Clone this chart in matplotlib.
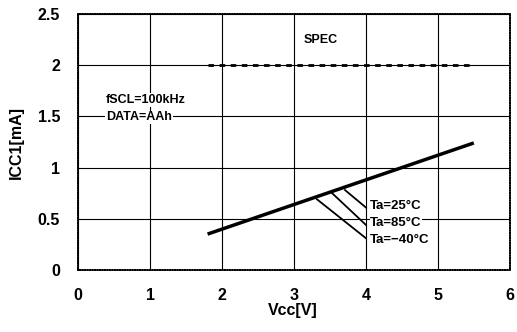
import matplotlib
matplotlib.use('Agg')
import matplotlib.pyplot as plt

plt.rcParams['font.family'] = ['Liberation Sans', 'DejaVu Sans']

# measured curve (Ta=25/85/-40 overlap)
vcc = [1.8, 5.5]
icc = [0.35, 1.24]

# spec line
spec_x = [1.8, 5.5]
spec_y = [2.0, 2.0]

# leader lines: (curve point) -> (label point)
labels = ['Ta=25°C', 'Ta=85°C', 'Ta=\u221240°C']
lead_x0 = [3.71, 3.53, 3.32]
lead_y0 = [0.78, 0.75, 0.69]
lead_x1 = [4.0, 4.0, 4.0]
lead_y1 = [0.61, 0.44, 0.31]
label_y = [0.62, 0.46, 0.29]

xticks = [0, 1, 2, 3, 4, 5, 6]
yticks = [0, 0.5, 1, 1.5, 2, 2.5]

fig = plt.figure(figsize=(5.17, 3.32), dpi=100)
ax = fig.add_axes([0.151, 0.187, 0.835, 0.771])

ax.set_xlim(0, 6)
ax.set_ylim(0, 2.5)
ax.set_xticks(xticks)
ax.set_yticks(yticks)
ax.set_xticklabels([str(t) for t in xticks], fontsize=11.5, fontweight='bold')
ax.set_yticklabels(['0', '0.5', '1', '1.5', '2', '2.5'], fontsize=11.5, fontweight='bold')
ax.tick_params(axis='x', length=0, pad=13)
ax.tick_params(axis='y', length=0, pad=13)
ax.grid(True, color='black', linewidth=0.8)
for s in ax.spines.values():
    s.set_linewidth(1.2)
    s.set_linestyle((0, (1, 0.5)))

ax.plot(spec_x, spec_y, color='black', linewidth=2, linestyle=(0, (2, 2)))
ax.plot(vcc, icc, color='black', linewidth=2.5, solid_capstyle='butt')

for x0, y0, x1, y1 in zip(lead_x0, lead_y0, lead_x1, lead_y1):
    ax.plot([x0, x1], [y0, y1], color='black', linewidth=1.3)
for lab, y in zip(labels, label_y):
    ax.text(4.06, y, lab, fontsize=9.5, fontweight='bold', va='center', ha='left',
            bbox=dict(facecolor='white', edgecolor='none', pad=0.5))

ax.text(0.39, 1.66, 'fSCL=100kHz', fontsize=9, fontweight='bold', va='center',
        bbox=dict(facecolor='white', edgecolor='none', pad=0.5))
ax.text(0.39, 1.49, 'DATA=AAh', fontsize=9, fontweight='bold', va='center',
        bbox=dict(facecolor='white', edgecolor='none', pad=0.5))
ax.text(3.13, 2.25, 'SPEC', fontsize=9, fontweight='bold', va='center')

fig.text(293 / 517, 1 - 310 / 332, 'Vcc[V]', fontsize=11.5, fontweight='bold',
         ha='center', va='center')
fig.text(16 / 517, 0.57, 'ICC1[mA]', fontsize=11.5, fontweight='bold',
         ha='center', va='center', rotation=90)

fig.savefig('out.png', dpi=100)
